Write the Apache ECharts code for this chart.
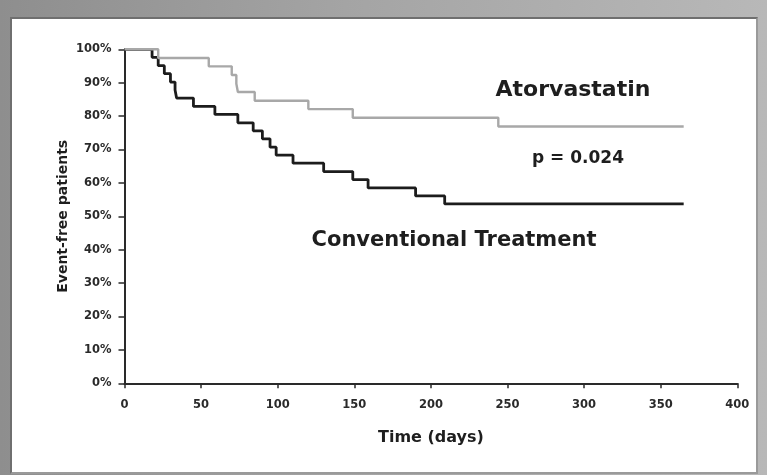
<!DOCTYPE html>
<html>
<head>
<meta charset="utf-8">
<title>Event-free survival</title>
<script src="https://cdn.jsdelivr.net/npm/echarts@6/dist/echarts.min.js"></script>
<style>
  html, body { margin: 0; padding: 0; }
  body {
    width: 767px; height: 475px; overflow: hidden; position: relative;
    background: linear-gradient(to right, #8e8e8e 0%, #a4a4a4 45%, #b8b8b8 100%);
  }
  #panel {
    position: absolute; left: 10px; top: 17px; width: 744px; height: 453px;
    background: #ffffff; border: 2px solid #6f6f6f; border-right-color: #9a9a9a; border-bottom-color: #9a9a9a;
  }
  #chart { position: absolute; left: 0; top: 0; width: 767px; height: 475px; }
</style>
</head>
<body>
<div id="panel"></div>
<div id="chart"></div>
<script>
// Kaplan-Meier curves: time of each step (days) and survival after it (%)
const conventionalDays = [0, 18, 22, 26, 30, 33, 34, 45, 59, 74, 84, 90, 95, 99, 110, 130, 149, 159, 190, 209, 365];
const conventionalSurvival = [100, 97.6, 95.1, 92.7, 90.2, 87.8, 85.4, 82.9, 80.5, 78.0, 75.6, 73.2, 70.7, 68.3, 65.9, 63.4, 61.0, 58.5, 56.1, 53.7, 53.7];

const atorvastatinDays = [0, 22, 55, 70, 73, 74, 85, 120, 149, 244, 365];
const atorvastatinSurvival = [100, 97.4, 94.9, 92.3, 89.7, 87.2, 84.6, 82.1, 79.5, 76.9, 76.9];

const xAxisTicks = { min: 0, max: 400, interval: 50 };
const yAxisTicks = { min: 0, max: 100, interval: 10 };

const labelFont = 'DejaVu Sans';

function pairs(xs, ys) {
  return xs.map((x, i) => [x, ys[i]]);
}

const chart = echarts.init(document.getElementById('chart'), null, { renderer: 'canvas' });

chart.setOption({
  backgroundColor: 'transparent',
  animation: false,
  grid: { left: 124.5, right: 29.7, top: 49.3, bottom: 91.7, containLabel: false },
  xAxis: {
    type: 'value',
    min: xAxisTicks.min, max: xAxisTicks.max, interval: xAxisTicks.interval,
    name: 'Time (days)',
    nameLocation: 'middle',
    nameGap: 47,
    nameTextStyle: { fontFamily: labelFont, fontWeight: 'bold', fontSize: 16, color: '#1e1e1e' },
    axisLine: { show: true, onZero: false, lineStyle: { color: '#2a2a2a', width: 2 } },
    axisTick: { show: true, length: 5, inside: false, lineStyle: { color: '#2a2a2a', width: 1.5 } },
    axisLabel: { margin: 16, fontFamily: labelFont, fontWeight: 'bold', fontSize: 11.5, color: '#2a2a2a' },
    splitLine: { show: false }
  },
  yAxis: {
    type: 'value',
    min: yAxisTicks.min, max: yAxisTicks.max, interval: yAxisTicks.interval,
    name: 'Event-free patients',
    nameLocation: 'middle',
    nameGap: 54,
    nameMoveOverlap: false,
    nameTextStyle: { fontFamily: labelFont, fontWeight: 'bold', fontSize: 14, color: '#1e1e1e' },
    axisLine: { show: true, lineStyle: { color: '#2a2a2a', width: 2 } },
    axisTick: { show: true, length: 6, inside: false, lineStyle: { color: '#2a2a2a', width: 1.5 } },
    axisLabel: { margin: 13, fontFamily: labelFont, fontWeight: 'bold', fontSize: 11.5, color: '#2a2a2a', formatter: '{value}%' },
    splitLine: { show: false }
  },
  series: [
    {
      name: 'Conventional Treatment',
      type: 'line',
      step: 'end',
      data: pairs(conventionalDays, conventionalSurvival),
      showSymbol: false,
      symbol: 'none',
      z: 2,
      lineStyle: { color: '#1c1c1c', width: 2.8 }
    },
    {
      name: 'Atorvastatin',
      type: 'line',
      step: 'end',
      data: pairs(atorvastatinDays, atorvastatinSurvival),
      showSymbol: false,
      symbol: 'none',
      z: 3,
      lineStyle: { color: '#a8a8a8', width: 2.4 }
    }
  ],
  graphic: [
    {
      type: 'text', x: 573, y: 90,
      style: { text: 'Atorvastatin', fontFamily: labelFont, fontWeight: 'bold', fontSize: 22,
               fill: '#1e1e1e', align: 'center', verticalAlign: 'middle' }
    },
    {
      type: 'text', x: 578, y: 159,
      style: { text: 'p = 0.024', fontFamily: labelFont, fontWeight: 'bold', fontSize: 17,
               fill: '#1e1e1e', align: 'center', verticalAlign: 'middle' }
    },
    {
      type: 'text', x: 454, y: 241,
      style: { text: 'Conventional Treatment', fontFamily: labelFont, fontWeight: 'bold', fontSize: 21,
               fill: '#1e1e1e', align: 'center', verticalAlign: 'middle' }
    }
  ]
});
</script>
</body>
</html>
